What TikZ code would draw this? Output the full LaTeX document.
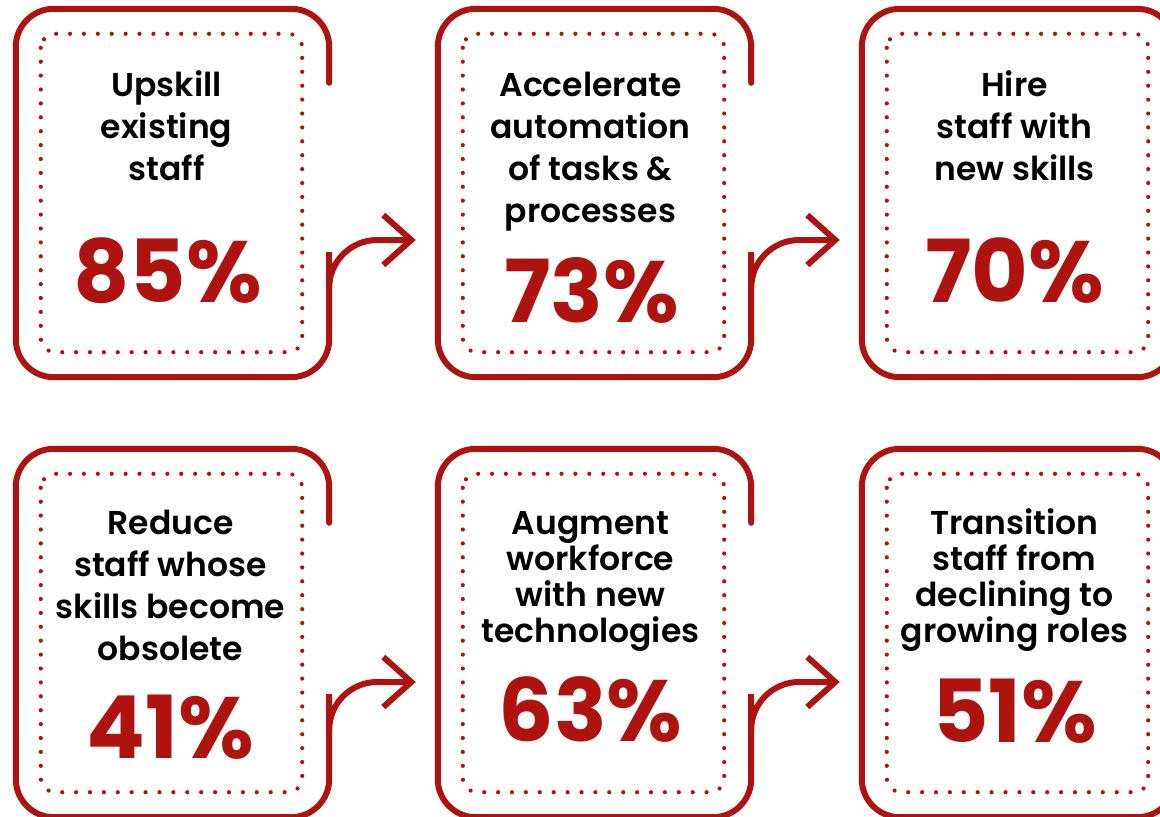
\documentclass[tikz,border=0pt]{standalone}
\usepackage{fontspec}
\setmainfont{Poppins}
\newfontfamily\labelfont{Poppins SemiBold}
\usetikzlibrary{arrows.meta,calc}
\definecolor{flowred}{RGB}{174,19,16}
\tikzset{
  boxarea/.style={rectangle,minimum width=313pt,minimum height=368pt,inner sep=0pt},
  boxline/.style={draw=flowred,line width=6pt,rounded corners=38pt,line cap=round},
  dotline/.style={draw=flowred,line width=4.2pt,line cap=round,dash pattern=on 0pt off 13.9pt,rounded corners=14pt},
  barb/.style={-{Straight Barb[length=28pt,width=50pt,line width=6pt]}},
  boxtext/.style={anchor=base,align=center,inner sep=0pt,font=\labelfont\fontsize{33}{42}\selectfont},
  share/.style={anchor=base,inner sep=0pt,text=flowred,font=\bfseries\fontsize{87}{87}\selectfont}
}

\begin{document}
\begin{tikzpicture}[x=1pt,y=-1pt]
\clip (0,0) rectangle (1160,817);
% the six boxes
\node (b1) [boxarea] at (172.5,193) {};
\node (b2) [boxarea] at (594.5,193) {};
\node (b3) [boxarea] at (1018.5,193) {};
\node (b4) [boxarea] at (172.5,633) {};
\node (b5) [boxarea] at (594.5,633) {};
\node (b6) [boxarea] at (1018.5,633) {};
\coordinate (a1) at ($(b2.west)+(-22,47)$);
\coordinate (a2) at ($(b3.west)+(-22,47)$);
\coordinate (a4) at ($(b5.west)+(-22,49)$);
\coordinate (a5) at ($(b6.west)+(-22,49)$);
%
\foreach \b/\a in {b1/a1,b2/a2,b4/a4,b5/a5}
  \draw[boxline,barb] ($(\b.north east)+(0,74)$) -- (\b.north east) -- (\b.north west)
    -- (\b.south west) -- (\b.south east) -- ($(\b.east |- \a)+(0,50)$)
    [rounded corners=48pt] -- (\b.east |- \a) -- (\a);
\draw[boxline] (b3.north west) rectangle (b3.south east);
\draw[boxline] (b6.north west) rectangle (b6.south east);
\foreach \b in {b1,b2,b3,b4,b5,b6}
  \draw[dotline] ($(\b.north west)+(25,25)$) rectangle ($(\b.south east)+(-27,-25)$);
% texts sit on the baseline of their last line
\node (t1) [boxtext] at ($(b1.north)+(-6,172)$) {Upskill\\existing\\staff};
\node (t2) [boxtext] at ($(b2.north)+(-4,214)$) {Accelerate\\automation\\of tasks \&\\processes};
\node (t3) [boxtext] at ($(b3.north)+(-4,172)$) {Hire\\staff with\\new skills};
\node (t4) [boxtext] at ($(b4.north)+(-2,212)$) {Reduce\\staff whose\\skills become\\obsolete};
\node (t5) [boxtext,font=\labelfont\fontsize{33}{36}\selectfont] at ($(b5.north)+(-4,194)$) {Augment\\workforce\\with new\\technologies};
\node (t6) [boxtext,font=\labelfont\fontsize{33}{36}\selectfont] at ($(b6.north)+(-4,194)$) {Transition\\staff from\\declining to\\growing roles};
%
\node (p1) [share] at ($(b1.north)+(-5,294)$) {85\%};
\node (p2) [share] at ($(b2.north)+(-3,314)$) {73\%};
\node (p3) [share] at ($(b3.north)+(-4,294)$) {70\%};
\node (p4) [share] at ($(b4.north)+(-2,310)$) {41\%};
\node (p5) [share] at ($(b5.north)+(-4,293)$) {63\%};
\node (p6) [share] at ($(b6.north)+(-4,294)$) {51\%};
\end{tikzpicture}
\end{document}
